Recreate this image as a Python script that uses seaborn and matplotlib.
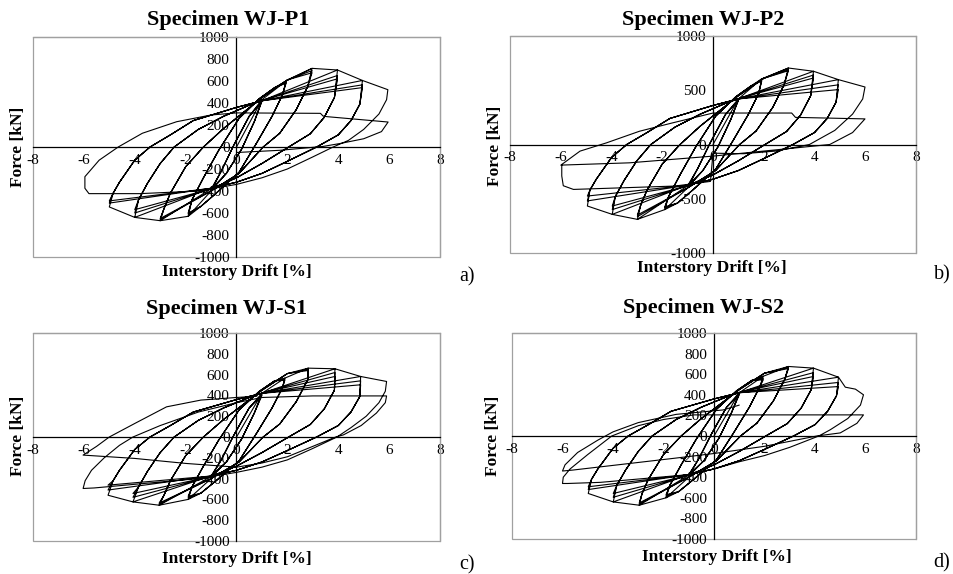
import numpy as np
import pandas as pd
import matplotlib
matplotlib.use("Agg")
import matplotlib.pyplot as plt
import seaborn as sns
from matplotlib.patches import Rectangle

# ---- loop branch shapes (drift %, force kN), shared by the four specimens ----
# upper branches run from the negative peak up towards the positive peak
up_1 = [(-0.6, -220), (-0.1, 20), (0.5, 280)]
up_2 = [(-1.75, -480), (-1.3, -280), (-0.7, -30), (0.1, 260), (0.9, 440), (1.5, 540)]
up_3 = [(-2.85, -560), (-2.6, -420), (-2.0, -180), (-1.3, 0), (-0.5, 170), (0.3, 320), (1.0, 450), (2.0, 610)]
up_4 = [(-3.85, -480), (-3.5, -330), (-3.0, -150), (-2.45, 0), (-1.5, 160), (-0.5, 280), (0.5, 380), (1.1, 430)]
up_5 = [(-4.85, -420), (-4.6, -320), (-4.0, -120), (-3.4, 0), (-2.6, 110), (-1.7, 240), (0.0, 360), (1.0, 420)]
# lower branches run from the positive peak down towards the negative peak
low_1 = [(0.7, 230), (0.2, -20), (-0.4, -240)]
low_2 = [(1.8, 470), (1.4, 280), (0.8, 40), (0.1, -230), (-0.8, -420), (-1.4, -540)]
low_3 = [(2.8, 550), (2.35, 340), (1.7, 125), (1.05, 0), (0.1, -240), (-1.0, -400)]
low_4 = [(3.85, 450), (3.45, 270), (2.9, 120), (2.05, 0), (1.0, -150), (0.0, -280), (-1.0, -380)]
low_5 = [(4.85, 390), (4.5, 240), (4.0, 110), (3.15, 0), (2.0, -130), (1.0, -240), (0.0, -320), (-1.0, -375)]

UPPER = [up_1, up_2, up_3, up_4, up_5]
LOWER = [low_1, low_2, low_3, low_4, low_5]

# ---- specimen WJ-P1 ----
p1_pos_drift = [1.0, 1.95, 2.97, 3.97, 4.95]
p1_pos_force = [[430, 420, 415], [600, 590, 580], [715, 695, 675], [700, 650, 620], [605, 565, 540]]
p1_neg_drift = [-1.0, -1.9, -3.0, -4.0, -5.0]
p1_neg_force = [[-400, -390, -385], [-630, -610, -600], [-670, -660, -650], [-640, -600, -570], [-545, -510, -490]]
p1_peak6 = (5.95, 521)
p1_tail = [(5.9, 430), (5.6, 300), (5.0, 160), (4.4, 60), (3.8, 0), (3.0, -90), (2.0, -200), (1.0, -280),
           (0.0, -340), (-1.5, -400), (-3.8, -424), (-5.8, -424), (-5.96, -375), (-5.96, -270), (-5.4, -120),
           (-4.65, 0), (-3.7, 125), (-2.35, 230), (-1.0, 291), (0.0, 310), (3.3, 306), (3.4, 282), (3.55, 276),
           (5.96, 227), (5.7, 140), (5.0, 75), (4.1, 33), (3.4, 5), (1.7, -30), (0.0, -50)]

# ---- specimen WJ-P2 ----
p2_pos_drift = [1.0, 1.92, 2.97, 3.96, 4.94]
p2_pos_force = [[420, 410, 405], [605, 595, 585], [705, 690, 680], [675, 640, 613], [598, 550, 506]]
p2_neg_drift = [-1.0, -1.9, -2.98, -3.97, -4.95]
p2_neg_force = [[-400, -390, -380], [-600, -585, -575], [-690, -665, -650], [-644, -600, -567], [-567, -520, -475]]
p2_peak6 = (5.99, 530)
p2_tail = [(5.9, 420), (5.5, 280), (4.8, 130), (3.8, 0), (2.5, -60), (1.2, -85), (0.0, -80), (-0.1, -340),
           (-1.5, -383), (-5.5, -414), (-5.9, -380), (-5.96, -290), (-5.96, -184), (-5.24, -61), (-4.2, 15),
           (-2.9, 122), (-1.6, 199), (0.0, 290), (3.1, 290), (3.25, 250), (5.99, 236), (5.5, 110), (4.6, 0),
           (0.0, -107), (-3.3, -169), (-6.0, -190)]

# ---- specimen WJ-S1 ----
p3_pos_drift = [1.0, 1.9, 2.82, 3.87, 4.88]
p3_pos_force = [[420, 410, 400], [566, 555, 545], [662, 650, 640], [656, 620, 582], [582, 540, 502]]
p3_neg_drift = [-1.0, -1.9, -3.04, -4.07, -5.05]
p3_neg_force = [[-390, -380, -375], [-600, -585, -570], [-656, -645, -635], [-624, -580, -543], [-560, -510, -463]]
p3_peak6 = (5.9, 534)
p3_tail = [(5.85, 440), (5.6, 330), (5.1, 200), (4.5, 90), (3.95, 0), (3.0, -110), (2.0, -220), (1.0, -290),
           (0.0, -340), (-1.5, -400), (-5.6, -490), (-6.03, -495), (-5.95, -420), (-5.7, -320), (-5.2, -200),
           (-4.6, -80), (-4.07, 0), (-3.0, 110), (-1.5, 240), (0.0, 330), (1.0, 380), (3.0, 395), (5.9, 395),
           (5.85, 330), (5.5, 230), (4.9, 110), (4.2, 20), (3.9, 0), (3.0, -90), (2.0, -190), (1.0, -250),
           (0.0, -290), (-2.0, -254), (-4.0, -206), (-6.03, -174), (-5.5, -90), (-5.0, 0), (-4.0, 130),
           (-2.75, 290), (-1.4, 355), (0.0, 380), (0.8, 392)]

# ---- specimen WJ-S2 ----
p4_pos_drift = [1.0, 1.95, 2.95, 3.94, 4.93]
p4_pos_force = [[420, 410, 400], [580, 560, 545], [675, 665, 655], [659, 615, 578], [571, 520, 480]]
p4_neg_drift = [-1.0, -1.9, -2.96, -3.99, -4.98]
p4_neg_force = [[-390, -380, -375], [-600, -585, -570], [-672, -660, -650], [-640, -595, -558], [-558, -520, -493]]
p4_peak6 = (5.2, 474)
p4_tail = [(5.6, 455), (5.92, 400), (5.8, 300), (5.3, 170), (4.6, 60), (4.15, 0), (3.0, -110), (2.0, -190),
           (1.0, -250), (0.0, -320), (-1.0, -375), (-4.5, -450), (-5.8, -461), (-6.0, -461), (-5.97, -400),
           (-5.7, -320), (-5.0, -180), (-4.05, 0), (-3.0, 100), (-2.0, 160), (-0.8, 205), (5.92, 205),
           (5.66, 123), (5.0, 30), (4.07, 0), (2.0, -100), (0.0, -170), (-1.6, -217), (-5.6, -331),
           (-6.0, -340), (-5.9, -280), (-5.4, -160), (-4.6, -40), (-4.0, 40), (-3.0, 130), (-1.5, 210),
           (0.36, 253), (1.0, 300)]

titles = ["Specimen WJ-P1", "Specimen WJ-P2", "Specimen WJ-S1", "Specimen WJ-S2"]
letters = ["a)", "b)", "c)", "d)"]
x_ticks = [-8, -6, -4, -2, 0, 2, 4, 6, 8]
y_ticks_fine = [-1000, -800, -600, -400, -200, 0, 200, 400, 600, 800, 1000]
y_ticks_coarse = [-1000, -500, 0, 500, 1000]


def build_path(pos_d, pos_f, neg_d, neg_f, peak6, tail):
    # chains the cycles in test order: 3 cycles per drift level, then the last level
    pts = [(0.0, 0.0)]
    for k in range(5):
        for i in range(3):
            if i == 0 and k > 0:
                pts += UPPER[k - 1]
                pts.append((pos_d[k - 1], pos_f[k - 1][0]))
            elif k > 0 or i > 0:
                pts += UPPER[k]
            pts.append((pos_d[k], pos_f[k][i]))
            pts += LOWER[k]
            if i == 0 and k >= 2:
                pts.append((neg_d[k - 1], neg_f[k - 1][0]))
            pts.append((neg_d[k], neg_f[k][i]))
    pts += UPPER[4]
    pts.append((pos_d[4], pos_f[4][0]))
    pts.append(peak6)
    pts += tail
    return pd.DataFrame(pts, columns=["drift", "force"])


paths = [
    build_path(p1_pos_drift, p1_pos_force, p1_neg_drift, p1_neg_force, p1_peak6, p1_tail),
    build_path(p2_pos_drift, p2_pos_force, p2_neg_drift, p2_neg_force, p2_peak6, p2_tail),
    build_path(p3_pos_drift, p3_pos_force, p3_neg_drift, p3_neg_force, p3_peak6, p3_tail),
    build_path(p4_pos_drift, p4_pos_force, p4_neg_drift, p4_neg_force, p4_peak6, p4_tail),
]

sns.set_style("white")
plt.rcParams["font.family"] = ["Liberation Serif", "DejaVu Serif"]
plt.rcParams["text.color"] = "black"
plt.rcParams["xtick.color"] = "black"
plt.rcParams["ytick.color"] = "black"

W, H = 954, 574
fig = plt.figure(figsize=(W / 100, H / 100), dpi=100)

# axes boxes in pixels: left, top, right, bottom
boxes = [(33, 37, 440, 257), (510, 36, 916, 253), (33, 333, 440, 541), (512, 333, 916, 539)]
title_pos = [(228, 20), (703, 20), (227, 309), (704, 308)]
ylab_pos = [(18, 147), (495, 146), (18, 436), (493, 436)]
xlab_pos = [(237, 272), (712, 268), (237, 559), (717, 557)]
letter_pos = [(467, 277), (942, 275), (467, 565), (942, 563)]


def fx(px):
    return px / W


def fy(py):
    return 1 - py / H


for n in range(4):
    l, t, r, b = boxes[n]
    ax = fig.add_axes([fx(l), fy(b), (r - l) / W, (b - t) / H])
    sns.lineplot(data=paths[n], x="drift", y="force", sort=False, estimator=None,
                 color="black", lw=0.8, ax=ax)
    ax.set_xlim(-8, 8)
    ax.set_ylim(-1000, 1000)
    ax.set_xticks(x_ticks)
    ax.set_xticklabels([str(v) for v in x_ticks])
    yt = y_ticks_coarse if n == 1 else y_ticks_fine
    ax.set_yticks(yt)
    ax.set_yticklabels([str(v) for v in yt])
    ax.set_xlabel("")
    ax.set_ylabel("")

    # Excel style axes crossing at zero, grey plot frame
    ax.spines["left"].set_position("zero")
    ax.spines["bottom"].set_position("zero")
    for s in ["left", "bottom"]:
        ax.spines[s].set_color("black")
        ax.spines[s].set_linewidth(0.9)
    for s in ["top", "right"]:
        ax.spines[s].set_color("#a0a0a0")
        ax.spines[s].set_linewidth(0.9)
    ax.add_patch(Rectangle((0, 0), 1, 1, transform=ax.transAxes, fill=False,
                           ec="#a0a0a0", lw=0.9, clip_on=False, zorder=0))
    ax.tick_params(axis="both", direction="out", length=4, width=0.8,
                   labelsize=11, pad=1, color="black", labelcolor="black")
    ax.set_facecolor("white")

    fig.text(fx(title_pos[n][0]), fy(title_pos[n][1]), titles[n], ha="center", va="center",
             fontsize=16, fontweight="bold", color="black")
    fig.text(fx(ylab_pos[n][0]), fy(ylab_pos[n][1]), "Force [kN]", ha="center", va="center",
             rotation=90, fontsize=12.5, fontweight="bold", color="black")
    fig.text(fx(xlab_pos[n][0]), fy(xlab_pos[n][1]), "Interstory Drift [%]", ha="center",
             va="center", fontsize=12.5, fontweight="bold", color="black")
    fig.text(fx(letter_pos[n][0]), fy(letter_pos[n][1]), letters[n], ha="center", va="center",
             fontsize=14.5, color="black")

fig.savefig("out.png", dpi=100, facecolor="white")
